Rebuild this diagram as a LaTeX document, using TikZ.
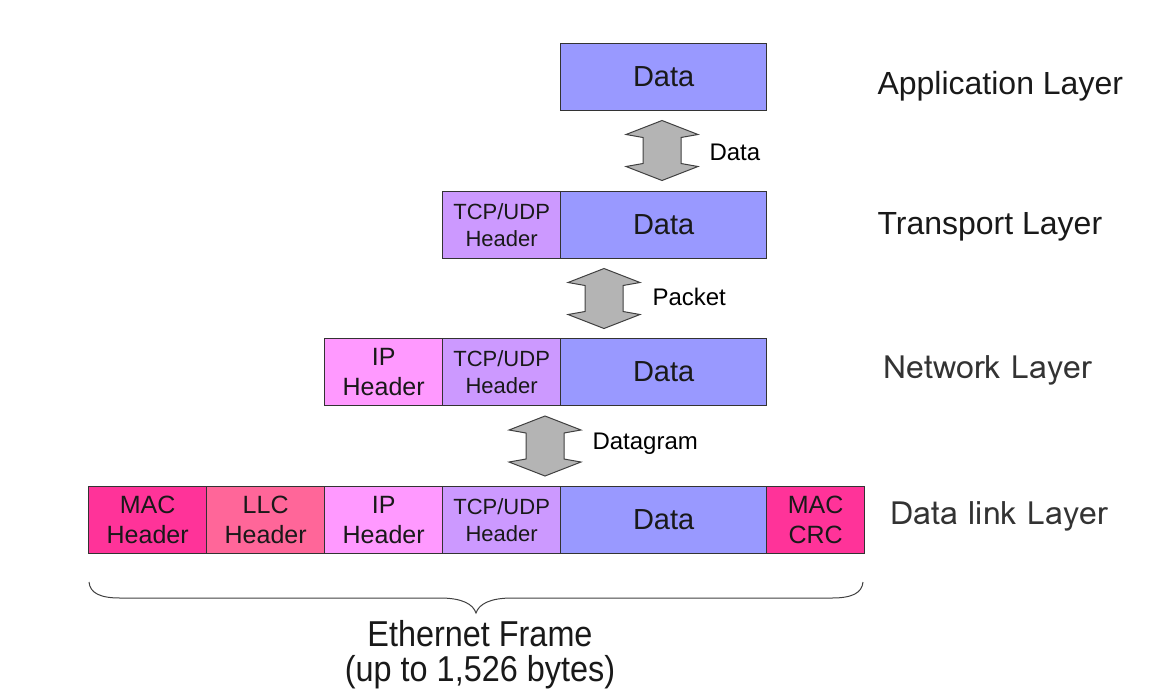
\documentclass[tikz,border=0pt]{standalone}
\usepackage{fontspec}
\setmainfont{Liberation Sans}
\newfontfamily\lomafont{Loma}
\definecolor{datac}{HTML}{9999FF}
\definecolor{tcpc}{HTML}{CC99FF}
\definecolor{ipc}{HTML}{FF99FF}
\definecolor{llcc}{HTML}{FF6699}
\definecolor{macc}{HTML}{FF3399}
\definecolor{arrc}{HTML}{B4B4B4}
\definecolor{edgec}{HTML}{333333}
\begin{document}
\begin{tikzpicture}[x=1pt,y=-1pt,
  box/.style={draw=edgec, line width=1.3pt, minimum height=67pt, inner sep=0pt,
    align=center, anchor=north west, text=black!90},
  datab/.style={box, fill=datac, minimum width=206pt, font=\fontsize{29}{30}\selectfont},
  tcpb/.style={box, fill=tcpc, minimum width=118pt, font=\fontsize{22}{27}\selectfont},
  hdrb/.style={box, minimum width=118pt, font=\fontsize{25}{30}\selectfont},
  arrlab/.style={anchor=west, font=\fontsize{24}{26}\selectfont},
  layer/.style={anchor=west, font=\fontsize{32}{34}\selectfont, text=black!90},
  layerb/.style={anchor=west, font=\lomafont\fontsize{32}{34}\selectfont, text=black!80},
  bottomtxt/.style={font=\fontsize{36}{35}\selectfont, text=black!90, align=center, inner sep=0pt},
  dblarrow/.pic={\draw[fill=arrc, draw=black!75, line width=1pt]
    (0,-30) -- (36,-16) -- (19,-13) -- (19,13) -- (36,16) -- (0,30)
    -- (-36,16) -- (-19,13) -- (-19,-13) -- (-36,-16) -- cycle;}
]
\useasboundingbox (0,0) rectangle (1151,697);
% Application layer
\node[datab] (appdata) at (560,43) {Data};
% Transport layer
\node[tcpb] (trtcp) at (442,191) {TCP/UDP\\Header};
\node[datab] (trdata) at (560,191) {Data};
% Network layer
\node[hdrb, fill=ipc] (nwip) at (324,338) {IP\\Header};
\node[tcpb] (nwtcp) at (442,338) {TCP/UDP\\Header};
\node[datab] (nwdata) at (560,338) {Data};
% Data link layer
\node[hdrb, fill=macc] (dlmac) at (88,486) {MAC\\Header};
\node[hdrb, fill=llcc] (dlllc) at (206,486) {LLC\\Header};
\node[hdrb, fill=ipc] (dlip) at (324,486) {IP\\Header};
\node[tcpb] (dltcp) at (442,486) {TCP/UDP\\Header};
\node[datab] (dldata) at (560,486) {Data};
\node[box, fill=macc, minimum width=98pt, font=\fontsize{25}{30}\selectfont] (dlcrc) at (766,486) {MAC\\CRC};
% arrows
\pic at (662,150.5) {dblarrow};
\pic at (604,298.5) {dblarrow};
\pic at (545,446) {dblarrow};
\node[arrlab] (l1) at (706,152) {Data};
\node[arrlab] (l2) at (649,297) {Packet};
\node[arrlab] (l3) at (589,444) {Datagram};
% layer labels
\node[layer] (la) at (874,86) {Application Layer};
\node[layer] (lt) at (874,227) {Transport Layer};
\node[layerb] (ln) at (880,370) {Network Layer};
\node[layerb] (ld) at (887,516) {Data link Layer};
% brace
\draw[black!75, line width=1pt] (89,582) .. controls (90,593) and (100,598) .. (120,598)
  -- (440,598) .. controls (462,598) and (473,604) .. (476,613)
  .. controls (479,604) and (490,598) .. (512,598) -- (832,598)
  .. controls (852,598) and (862,593) .. (863,582);
\node[bottomtxt] (ef) at (480,655) {\scalebox{0.9}[1]{Ethernet Frame}\\\scalebox{0.9}[1]{(up to 1,526 bytes)}};
\end{tikzpicture}
\end{document}
